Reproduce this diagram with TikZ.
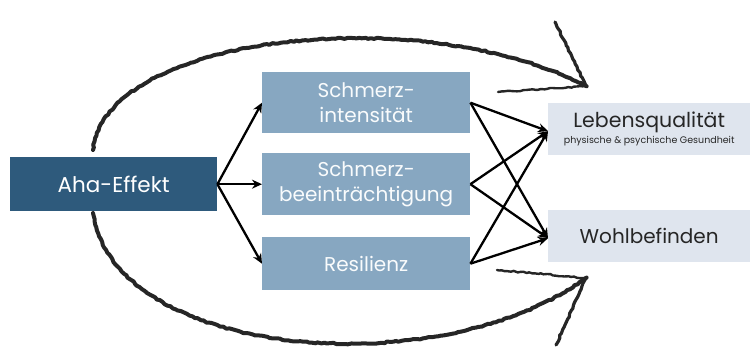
\documentclass[tikz,border=0pt]{standalone}
\usepackage{fontspec}
\setmainfont{Poppins}
\usetikzlibrary{arrows.meta,decorations.pathmorphing}
\definecolor{darkblue}{HTML}{2E5A7C}
\definecolor{midblue}{HTML}{87A7C1}
\definecolor{lightbox}{HTML}{DFE5EE}
\begin{document}
\begin{tikzpicture}[x=1pt,y=1pt,
  mainbox/.style={fill=darkblue,text=white,minimum width=207pt,minimum height=54pt,inner sep=0pt,font=\fontsize{21.5}{24}\selectfont,anchor=north west},
  midbox/.style={fill=midblue,text=white!95!midblue,minimum width=208pt,inner sep=0pt,align=center,font=\fontsize{20}{25}\selectfont,anchor=north west},
  outbox/.style={fill=lightbox,text=black!85,minimum width=202pt,minimum height=52pt,inner sep=0pt,align=center,anchor=north west},
  conn/.style={-{Stealth[length=10pt,width=9pt]},line width=2.3pt,black},
  sketch/.style={line width=4pt,black!85,line cap=round,line join=round,decorate,decoration={random steps,segment length=3pt,amplitude=0.7pt}}
]
\useasboundingbox (0,0) rectangle (750,-347);
\node[mainbox] (aha) at (10,-157) {Aha-Effekt};
\node[midbox,minimum height=61pt] (si) at (262,-72) {Schmerz-\\intensität};
\node[midbox,minimum height=62pt] (sb) at (262,-153) {Schmerz-\\beeinträchtigung};
\node[midbox,minimum height=53pt] (re) at (262,-237) {Resilienz};
\node[outbox] (lq) at (548,-103) {{\fontsize{20.5}{22}\selectfont Lebensqualität}\\[2pt]{\fontsize{9.5}{11}\selectfont physische \& psychische Gesundheit}};
\node[outbox] (wb) at (548,-210) {\fontsize{20}{22}\selectfont Wohlbefinden};
% arrows from Aha
\draw[conn] (aha.east) -- (si.west);
\draw[conn] (aha.east) -- (sb.west);
\draw[conn] (aha.east) -- (re.west);
% arrows to outcomes
\coordinate (lqin) at ([yshift=-2pt]lq.west);
\coordinate (wbin) at ([yshift=-2pt]wb.west);
\foreach \s in {si,sb,re}{
  \draw[conn] (\s.east) -- (lqin);
  \draw[conn] (\s.east) -- (wbin);
}
% sketchy arcs
\coordinate (ta) at (93,-150);
\coordinate (tt) at (586,-86);
\coordinate (ba) at (93,-213);
\coordinate (bt) at (586,-278);
\draw[sketch] (ta) .. controls (105,-35) and (420,0) .. (tt);
\draw[sketch,line width=3.2pt] (tt) -- (555,-22);
\draw[sketch,line width=2.4pt] (tt) -- (498,-92);
\draw[sketch] (ba) .. controls (115,-360) and (440,-385) .. (bt);
\draw[sketch,line width=2.4pt] (bt) -- (497,-270);
\draw[sketch,line width=3.2pt] (bt) -- (556,-345);
\end{tikzpicture}
\end{document}
